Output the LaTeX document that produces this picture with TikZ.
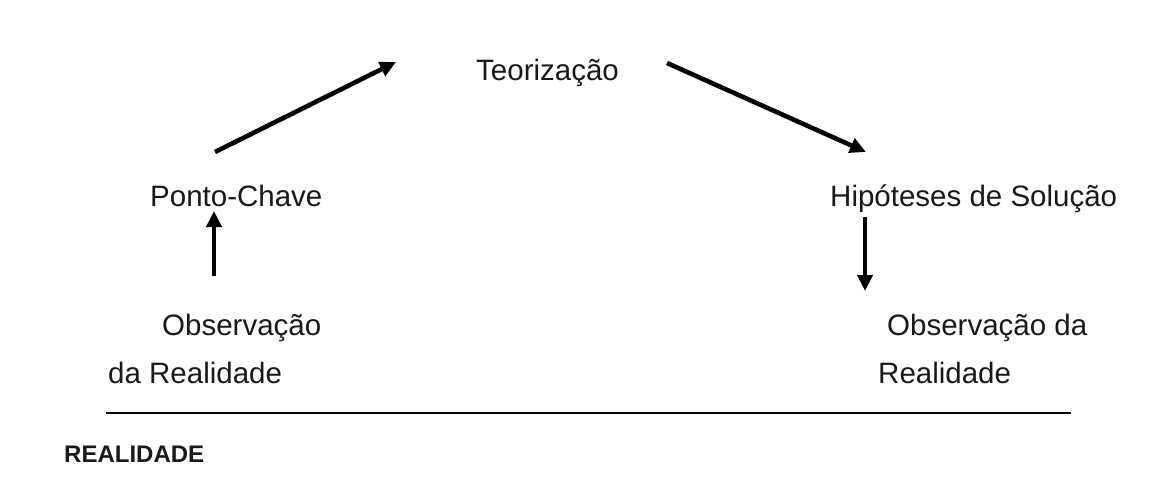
\documentclass[tikz,border=0pt]{standalone}
\usepackage{fontspec}
\setmainfont{Liberation Sans}
\usetikzlibrary{arrows.meta}
\begin{document}
\begin{tikzpicture}[x=1pt,y=-1pt,
  lbl/.style={anchor=base west,inner sep=0pt,font=\fontsize{29.5}{34}\selectfont,text=black!90},
  bold/.style={anchor=base west,inner sep=0pt,font=\fontsize{24}{28}\selectfont\bfseries,text=black!90},
  arr/.style={line width=4.6pt,-{Triangle[length=16pt,width=15pt]}}]
\useasboundingbox[fill=white] (0,0) rectangle (1150,484);
\node[lbl] (teo) at (476,81) {Teorização};
\node[lbl] (pc) at (150,206) {Ponto-Chave};
\node[lbl] (hip) at (830,206) {Hipóteses de Solução};
\node[lbl] (obsL1) at (162,335) {Observação};
\node[lbl] (obsL2) at (108,383) {da Realidade};
\node[lbl] (obsR1) at (887,335) {Observação da};
\node[lbl] (obsR2) at (878,383) {Realidade};
\node[bold] (real) at (64,462) {REALIDADE};
\coordinate (a1s) at (215,152);
\coordinate (a1e) at (396,62);
\coordinate (a2s) at (667,63);
\coordinate (a2e) at (866,152);
\coordinate (a3s) at (214,276);
\coordinate (a3e) at (214,211);
\coordinate (a4s) at (865,217);
\coordinate (a4e) at (865,291);
\coordinate (ls) at (106,413);
\coordinate (le) at (1071,413);
\draw[arr] (a1s) -- (a1e);
\draw[arr] (a2s) -- (a2e);
\draw[arr] (a3s) -- (a3e);
\draw[arr] (a4s) -- (a4e);
\draw[line width=2.8pt] (ls) -- (le);
\end{tikzpicture}
\end{document}
